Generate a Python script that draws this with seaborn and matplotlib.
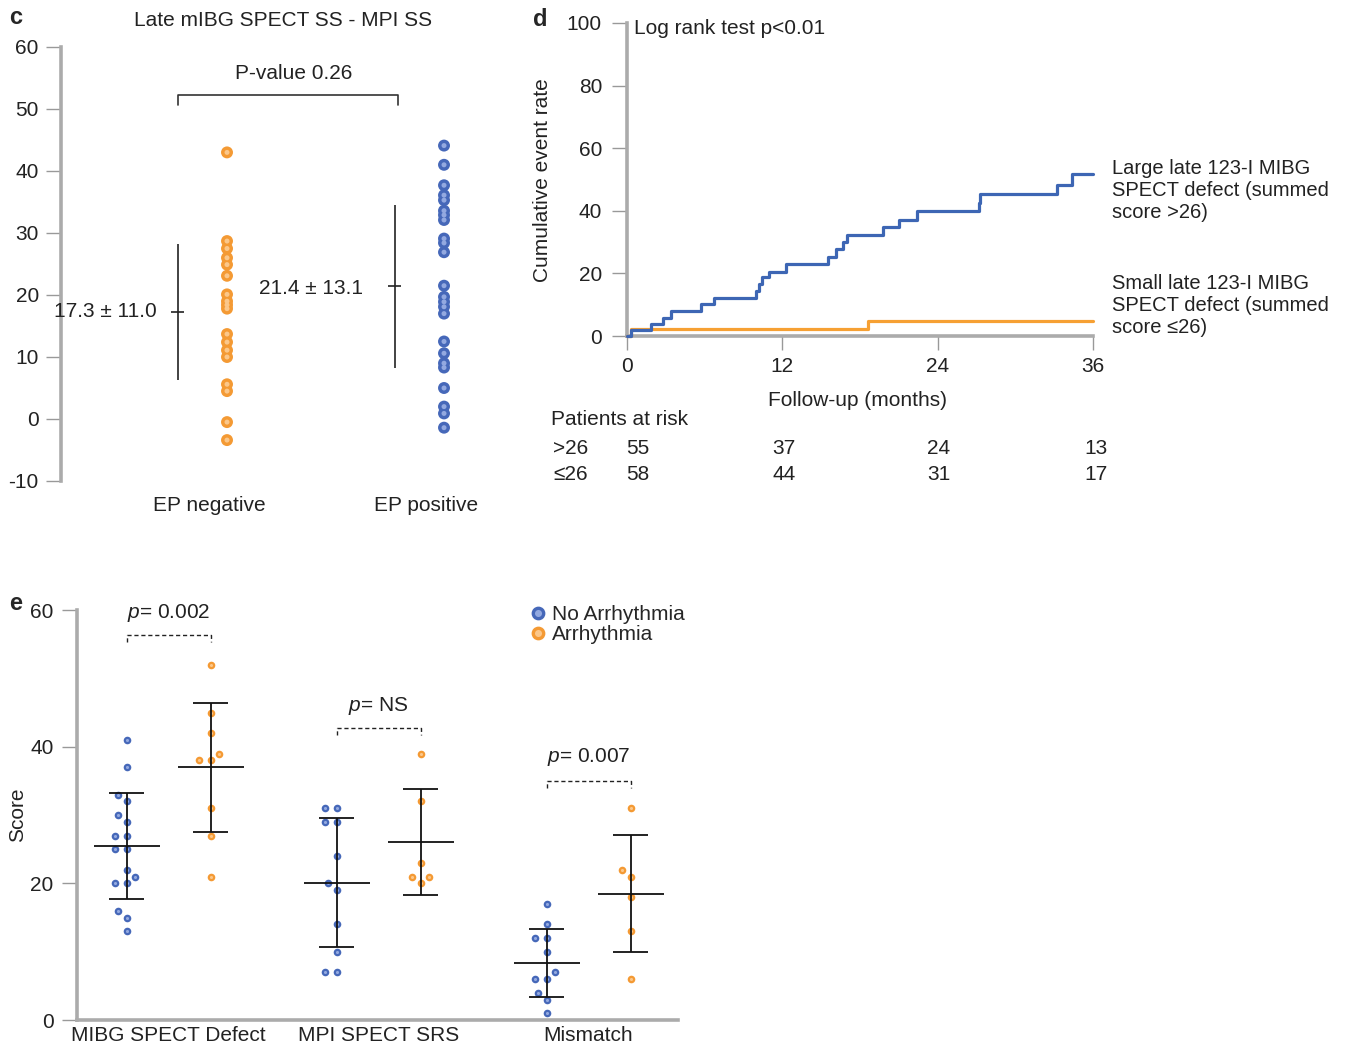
import numpy as np
import pandas as pd
import seaborn as sns
import matplotlib.pyplot as plt
from matplotlib.lines import Line2D
from matplotlib import transforms

# ---- panel c: late mIBG SPECT SS - MPI SS
ep_groups = ['EP negative', 'EP positive']
ep_negative = [43.0, 28.7, 27.5, 26.0, 24.9, 23.1, 20.1, 19.0, 18.4, 17.8,
               13.7, 12.4, 11.1, 10.0, 5.6, 4.5, -0.5, -3.4]
ep_positive = [44.1, 41.0, 37.7, 36.1, 35.3, 33.6, 32.9, 32.1, 29.1, 28.4,
               26.9, 21.5, 19.7, 18.9, 18.1, 17.0, 12.5, 10.6, 9.0, 8.3,
               5.0, 2.0, 0.9, -1.4]
ep_mean = [17.3, 21.4]
ep_sd = [11.0, 13.1]
ep_pvalue = 'P-value 0.26'

# ---- panel d: cumulative event rate (%)
large_t = [0, 0.28, 1.87, 2.81, 3.42, 5.74, 6.75, 10.0, 10.2, 10.46, 11.0, 12.3,
           15.5, 16.15, 16.7, 16.97, 19.8, 21.0, 22.4, 27.2, 27.3, 33.2, 34.4, 36]
large_rate = [0, 1.8, 3.8, 5.9, 8.0, 10.1, 12.1, 14.4, 16.6, 18.7, 20.6, 23.0,
              25.3, 27.8, 30.0, 32.4, 34.8, 37.2, 39.9, 42.5, 45.4, 48.4, 51.9, 51.9]
small_t = [0, 0.3, 18.6, 36]
small_rate = [0, 2.1, 4.7, 4.7]
risk_months = [0, 12, 24, 36]
risk_large = [55, 37, 24, 13]
risk_small = [58, 44, 31, 17]

# ---- panel e: scores by arrhythmia
score_groups = ['MIBG SPECT Defect', 'MPI SPECT SRS', 'Mismatch']
status_levels = ['No Arrhythmia', 'Arrhythmia']
mibg_no = [41, 37, 33, 32, 30, 29, 27, 27, 25, 25, 22, 21, 20, 20, 16, 15, 13]
mibg_yes = [52, 45, 42, 39, 38, 38, 31, 27, 21]
mpi_no = [31, 31, 29, 29, 24, 20, 19, 14, 10, 7, 7]
mpi_yes = [39, 32, 23, 21, 21, 20]
mism_no = [17, 14, 12, 12, 10, 7, 6, 6, 4, 3, 1]
mism_yes = [31, 22, 21, 18, 13, 6]
e_pvalues = ['0.002', 'NS', '0.007']

blue, blue_lt = '#4668b9', '#93a9e0'
orange, orange_lt = '#f49a34', '#fbc78a'
line_blue, line_orange = '#3d66b4', '#f6a033'
spine_gray = '#ababab'
txt = '#222222'

sns.set_theme(style='white')
plt.rcParams['font.family'] = ['Liberation Sans', 'DejaVu Sans']
plt.rcParams['axes.unicode_minus'] = False
plt.rcParams['mathtext.fontset'] = 'custom'
plt.rcParams['mathtext.it'] = 'Liberation Sans:italic'
plt.rcParams['mathtext.rm'] = 'Liberation Sans'
FS = 15

W, H = 1355, 1049
fig = plt.figure(figsize=(W / 100, H / 100), dpi=100)


def fx(px):
    return px / W


def fy(py):
    return 1 - py / H


def style_axis(ax, bottom=True):
    sns.despine(ax=ax, top=True, right=True, bottom=not bottom)
    for side in ['left', 'bottom']:
        ax.spines[side].set_color(spine_gray)
        ax.spines[side].set_linewidth(2.6)
    ax.tick_params(axis='y', direction='out', length=11, width=1, color='#999999',
                   labelsize=FS, labelcolor=txt, pad=5, left=True)
    ax.set_xlabel('')
    ax.set_ylabel('')


# ================= panel c =================
ax_c = fig.add_axes([fx(61), fy(481), fx(500) - fx(61), fy(47) - fy(481)])
df_c = pd.DataFrame({'group': [ep_groups[0]] * len(ep_negative) + [ep_groups[1]] * len(ep_positive),
                     'value': ep_negative + ep_positive})
sns.stripplot(data=df_c, x='group', y='value', hue='group', order=ep_groups,
              palette={ep_groups[0]: orange, ep_groups[1]: blue}, jitter=False,
              size=8.6, linewidth=0, legend=False, ax=ax_c, zorder=3)
sns.stripplot(data=df_c, x='group', y='value', hue='group', order=ep_groups,
              palette={ep_groups[0]: orange_lt, ep_groups[1]: blue_lt}, jitter=False,
              size=3.6, linewidth=0, legend=False, ax=ax_c, zorder=4)
ax_c.set_xlim(-0.765, 1.258)
ax_c.set_ylim(-10, 60)
ax_c.set_yticks(range(-10, 61, 10))
style_axis(ax_c, bottom=False)
ax_c.set_xticks([])

for i, (m, s) in enumerate(zip(ep_mean, ep_sd)):
    xc = i - 0.226
    ax_c.vlines(xc, m - s, m + s, color='#222222', lw=1.2)
    ax_c.hlines(m, xc - 0.03, xc + 0.03, color='#222222', lw=1.2)
ax_c.text(-0.323, ep_mean[0], f'{ep_mean[0]:.1f} \u00b1 {ep_sd[0]:.1f}', ha='right',
          va='center', fontsize=FS, color=txt)
ax_c.text(0.387, ep_mean[1] - 0.3, f'{ep_mean[1]:.1f} \u00b1 {ep_sd[1]:.1f}', ha='center',
          va='center', fontsize=FS, color=txt)
ax_c.plot([-0.226, -0.226, 0.788, 0.788], [50.6, 52.3, 52.3, 50.6], color='#333333', lw=1.2)
ax_c.text(0.309, 55.8, ep_pvalue, ha='center', va='center', fontsize=FS, color=txt)
for i, g in enumerate(ep_groups):
    ax_c.text(i - 0.083, -14.0, g, ha='center', va='center', fontsize=FS, color=txt, clip_on=False)

fig.text(fx(16), fy(18), 'c', fontsize=17, fontweight='bold', ha='center', va='center')
fig.text(fx(283), fy(20), 'Late mIBG SPECT SS - MPI SS', fontsize=FS, ha='center',
         va='center', color=txt)

# ================= panel d =================
ax_d = fig.add_axes([fx(627), fy(336), fx(1093) - fx(627), fy(23) - fy(336)])
sns.lineplot(x=large_t, y=large_rate, drawstyle='steps-post', color=line_blue, lw=2.3,
             estimator=None, sort=False, ax=ax_d, clip_on=False, zorder=4)
sns.lineplot(x=small_t, y=small_rate, drawstyle='steps-post', color=line_orange, lw=2.3,
             estimator=None, sort=False, ax=ax_d, clip_on=False, zorder=3)
ax_d.set_xlim(0, 36)
ax_d.set_ylim(0, 100)
ax_d.set_xticks(risk_months)
ax_d.set_yticks(range(0, 101, 20))
style_axis(ax_d)
ax_d.tick_params(axis='y', pad=7)
ax_d.tick_params(axis='x', direction='out', length=10, width=1, color='#999999',
                 labelsize=FS, labelcolor=txt, pad=5, bottom=True)
ax_d.text(0.54, 98.1, 'Log rank test p<0.01', ha='left', va='center', fontsize=FS, color=txt)

fig.text(fx(540), fy(20), 'd', fontsize=17, fontweight='bold', ha='center', va='center')
fig.text(fx(543), fy(180), 'Cumulative event rate', rotation=90, fontsize=FS,
         ha='center', va='center', color=txt)
fig.text(fx(858), fy(401), 'Follow-up (months)', fontsize=FS, ha='center', va='center', color=txt)
fig.text(fx(1112), fy(191), 'Large late 123-I MIBG\nSPECT defect (summed\nscore >26)',
         fontsize=14.5, ha='left', va='center', color=txt, linespacing=1.2)
fig.text(fx(1112), fy(306), 'Small late 123-I MIBG\nSPECT defect (summed\nscore \u226426)',
         fontsize=14.5, ha='left', va='center', color=txt, linespacing=1.2)

fig.text(fx(551), fy(419), 'Patients at risk', fontsize=FS, ha='left', va='center', color=txt)
fig.text(fx(553), fy(448), '>26', fontsize=FS, ha='left', va='center', color=txt)
fig.text(fx(553), fy(474), '\u226426', fontsize=FS, ha='left', va='center', color=txt)
blend = transforms.blended_transform_factory(ax_d.transData, fig.transFigure)
col_x = [0.8, 12.1, 24.1, 36.2]
for cx, a, b in zip(col_x, risk_large, risk_small):
    fig.text(cx, fy(448), str(a), transform=blend, fontsize=FS, ha='center', va='center', color=txt)
    fig.text(cx, fy(474), str(b), transform=blend, fontsize=FS, ha='center', va='center', color=txt)

# ================= panel e =================
ax_e = fig.add_axes([fx(77), fy(1020), fx(678) - fx(77), fy(610) - fy(1020)])
series = [(mibg_no, mibg_yes), (mpi_no, mpi_yes), (mism_no, mism_yes)]
rows = []
for g, (no, yes) in zip(score_groups, series):
    rows += [(g, status_levels[0], v) for v in no]
    rows += [(g, status_levels[1], v) for v in yes]
df_e = pd.DataFrame(rows, columns=['group', 'status', 'score'])

sns.swarmplot(data=df_e, x='group', y='score', hue='status', order=score_groups,
              hue_order=status_levels, dodge=True, palette=[blue, orange],
              size=7.6, linewidth=0, legend=False, ax=ax_e)
ax_e.set_xlim(-0.436, 2.426)
ax_e.set_ylim(0, 60)
fig.canvas.draw()
# redraw the swarm positions with smaller two-tone dots
for coll in list(ax_e.collections):
    offs = coll.get_offsets()
    if len(offs) == 0:
        continue
    fc = coll.get_facecolor()[0][:3]
    is_blue = np.allclose(fc, plt.matplotlib.colors.to_rgb(blue), atol=0.02)
    base, lt = (blue, blue_lt) if is_blue else (orange, orange_lt)
    coll.set_visible(False)
    ax_e.scatter(offs[:, 0], offs[:, 1], s=30, color=base, lw=0, zorder=3)
    ax_e.scatter(offs[:, 0], offs[:, 1], s=5, color=lt, lw=0, zorder=4)

for i, (no, yes) in enumerate(series):
    for off, vals in [(-0.2, no), (0.2, yes)]:
        m, s = np.mean(vals), np.std(vals, ddof=1)
        xc = i + off
        ax_e.vlines(xc, m - s, m + s, color='#111111', lw=1.3, zorder=5)
        ax_e.hlines(m, xc - 0.157, xc + 0.157, color='#111111', lw=1.3, zorder=5)
        ax_e.hlines([m - s, m + s], xc - 0.083, xc + 0.083, color='#111111', lw=1.3, zorder=5)

bracket_y = [56.4, 42.75, 35.0]
label_y = [59.6, 46.0, 38.5]
for i, (p, by, ly) in enumerate(zip(e_pvalues, bracket_y, label_y)):
    ax_e.plot([i - 0.2, i - 0.2, i + 0.2, i + 0.2], [by - 1.1, by, by, by - 1.1],
              color='#222222', lw=1.0, ls=(0, (3, 2)))
    ax_e.text(i, ly, f'$p$= {p}', ha='center', va='center', fontsize=FS, color=txt)

style_axis(ax_e)
ax_e.set_yticks([0, 20, 40, 60])
ax_e.set_xticks(range(len(score_groups)))
ax_e.set_xticklabels(score_groups)
ax_e.tick_params(axis='x', length=0, labelsize=FS, labelcolor=txt, pad=4)
ax_e.tick_params(axis='y', pad=6)

handles = [Line2D([], [], marker='o', ls='', markersize=7.5, markerfacecolor=blue_lt,
                  markeredgecolor=blue, markeredgewidth=2.4),
           Line2D([], [], marker='o', ls='', markersize=7.5, markerfacecolor=orange_lt,
                  markeredgecolor=orange, markeredgewidth=2.4)]
ax_e.legend(handles, status_levels, loc='upper left', bbox_to_anchor=(fx(532), fy(605)),
            bbox_transform=fig.transFigure, frameon=False, fontsize=FS, handlelength=0.6,
            handletextpad=0.35, labelspacing=0.05, borderpad=0, borderaxespad=0)

fig.text(fx(16), fy(603), 'e', fontsize=17, fontweight='bold', ha='center', va='center')
fig.text(fx(18), fy(815), 'Score', rotation=90, fontsize=FS, ha='center', va='center', color=txt)

fig.savefig('out.png', dpi=100)
